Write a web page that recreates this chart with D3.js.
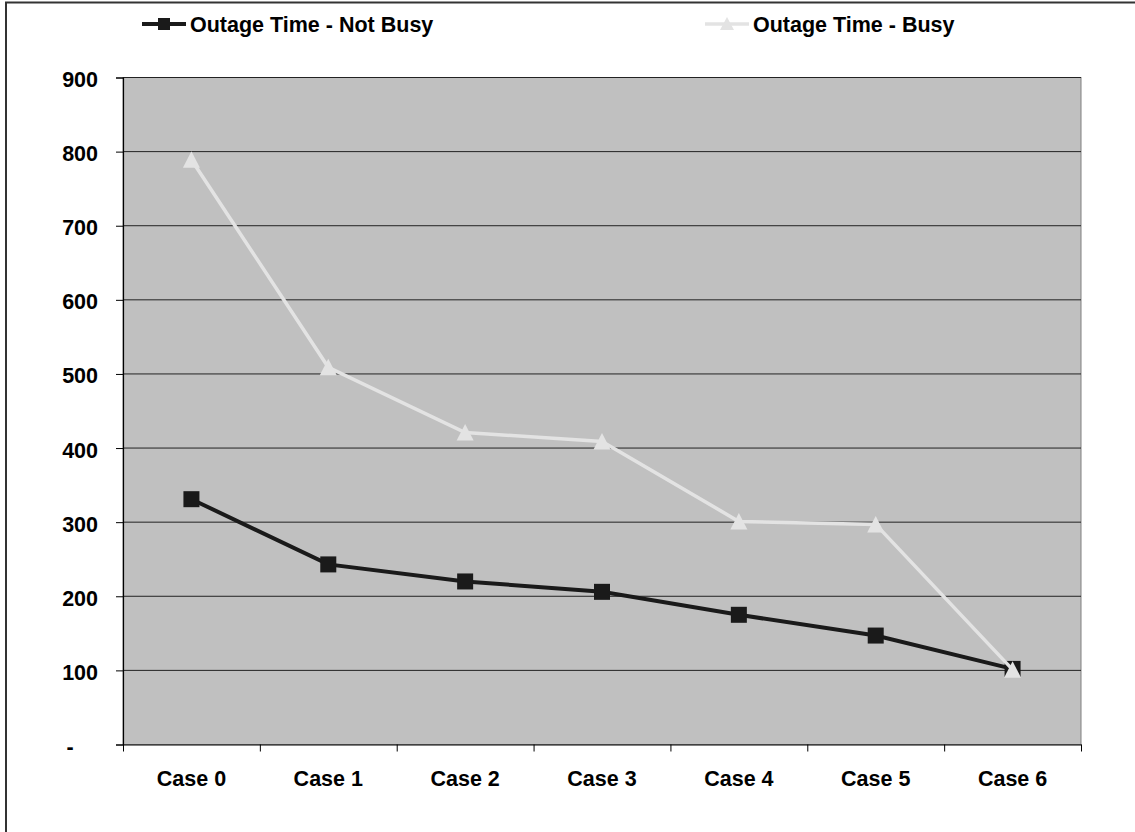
<!DOCTYPE html>
<html>
<head>
<meta charset="utf-8">
<script src="https://cdn.jsdelivr.net/npm/d3@7"></script>
<style>
  body { margin: 0; background: #fff; }
  svg text { font-family: "Liberation Sans", Arial, sans-serif; font-weight: bold; font-size: 21.5px; fill: #000; }
</style>
</head>
<body>
<div id="chart"></div>
<script>
var width = 1135;
var height = 832;

var cases = ["Case 0", "Case 1", "Case 2", "Case 3", "Case 4", "Case 5", "Case 6"];
var notBusy = [331, 243, 220, 206, 175, 147, 102];
var busy = [789, 509, 421, 409, 301, 297, 101];
var yTicks = [0, 100, 200, 300, 400, 500, 600, 700, 800, 900];
var seriesNames = ["Outage Time - Not Busy", "Outage Time - Busy"];

var plot = {left: 123, right: 1081, top: 77.5, bottom: 744.5};

const svg = d3.select("#chart")
  .append("svg")
    .attr("width", width)
    .attr("height", height);

// outer frame (only top/left visible in the picture)
svg.append("rect")
  .attr("x", 6).attr("y", 2.5)
  .attr("width", 1300).attr("height", 1000)
  .attr("fill", "none")
  .attr("stroke", "#333")
  .attr("stroke-width", 2);

var xScale = d3.scaleBand()
  .domain(cases)
  .range([plot.left, plot.right])
  .padding(0);

var yScale = d3.scaleLinear()
  .domain([0, 900])
  .range([plot.bottom, plot.top]);

// plot background
svg.append("rect")
  .attr("x", plot.left).attr("y", plot.top)
  .attr("width", plot.right - plot.left)
  .attr("height", plot.bottom - plot.top)
  .attr("fill", "#c0c0c0")
  .attr("stroke", "#808080")
  .attr("stroke-width", 1);

// gridlines
svg.append("g")
  .selectAll("line")
  .data(yTicks.filter(function (d) { return d > 0; }))
  .enter().append("line")
    .attr("x1", plot.left).attr("x2", plot.right)
    .attr("y1", function (d) { return yScale(d); })
    .attr("y2", function (d) { return yScale(d); })
    .attr("stroke", "#222")
    .attr("stroke-width", 1);

// y axis
var yAxis = svg.append("g")
  .attr("transform", "translate(" + plot.left + ",0)")
  .call(d3.axisLeft(yScale)
    .tickValues(yTicks)
    .tickSize(7)
    .tickPadding(18)
    .tickFormat(function (d) { return d === 0 ? "-" : d; }));
yAxis.select(".domain").attr("stroke", "#000").attr("stroke-width", 1.2);
yAxis.selectAll(".tick line").attr("stroke", "#000");
yAxis.selectAll("text").attr("font-family", null).attr("font-size", null).attr("dy", "0.42em");
yAxis.selectAll(".tick text").filter(function (d) { return d === 0; })
  .attr("text-anchor", "middle").attr("x", -53);

// x axis: labels centred in each band, ticks at band boundaries
var xAxis = svg.append("g")
  .attr("transform", "translate(0," + plot.bottom + ")")
  .call(d3.axisBottom(xScale).tickSize(0).tickPadding(0));
xAxis.select(".domain").remove();
xAxis.selectAll("text").attr("font-family", null).attr("font-size", null)
  .attr("dy", null).attr("y", 41);

var bScale = d3.scaleLinear().domain([0, cases.length]).range([plot.left, plot.right]);
var xTicks = svg.append("g")
  .attr("transform", "translate(0," + plot.bottom + ")")
  .call(d3.axisBottom(bScale).tickValues(d3.range(cases.length + 1)).tickSize(7).tickSizeOuter(0).tickFormat(""));
xTicks.select(".domain").attr("stroke", "#000").attr("stroke-width", 1.2);
xTicks.selectAll(".tick line").attr("stroke", "#000");

function cx(i) { return xScale(cases[i]) + xScale.bandwidth() / 2; }

var line = d3.line()
  .x(function (d, i) { return cx(i); })
  .y(function (d) { return yScale(d); });

var triPath = "M0,-8.5L8.5,8L-8.5,8Z";

// Not busy series
svg.append("path")
  .datum(notBusy)
  .attr("d", line)
  .attr("fill", "none")
  .attr("stroke", "#1a1a1a")
  .attr("stroke-width", 4);

svg.append("g").selectAll("rect")
  .data(notBusy)
  .enter().append("rect")
    .attr("x", function (d, i) { return cx(i) - 8; })
    .attr("y", function (d) { return yScale(d) - 8; })
    .attr("width", 16).attr("height", 16)
    .attr("fill", "#1a1a1a");

// Busy series
svg.append("path")
  .datum(busy)
  .attr("d", line)
  .attr("fill", "none")
  .attr("stroke", "#e3e3e3")
  .attr("stroke-width", 3.5);

svg.append("g").selectAll("path")
  .data(busy)
  .enter().append("path")
    .attr("d", triPath)
    .attr("transform", function (d, i) { return "translate(" + cx(i) + "," + yScale(d) + ")"; })
    .attr("fill", "#e3e3e3");

// legend
var legend = [
  {name: seriesNames[0], x: 142, color: "#1a1a1a", marker: "square", sw: 4},
  {name: seriesNames[1], x: 705, color: "#e3e3e3", marker: "triangle", sw: 3.5}
];
var lg = svg.append("g").selectAll("g")
  .data(legend)
  .enter().append("g")
    .attr("transform", function (d) { return "translate(" + d.x + ",24)"; });
lg.append("line")
  .attr("x1", 0).attr("x2", 44)
  .attr("stroke", function (d) { return d.color; })
  .attr("stroke-width", function (d) { return d.sw; });
lg.each(function (d) {
  var g = d3.select(this);
  if (d.marker === "square") {
    g.append("rect").attr("x", 16).attr("y", -6).attr("width", 12).attr("height", 12).attr("fill", d.color);
  } else {
    g.append("path").attr("d", "M0,-7L7,6L-7,6Z").attr("transform", "translate(22,0)").attr("fill", d.color);
  }
});
lg.append("text")
  .attr("x", 48)
  .attr("y", 8)
  .text(function (d) { return d.name; });
</script>
</body>
</html>
